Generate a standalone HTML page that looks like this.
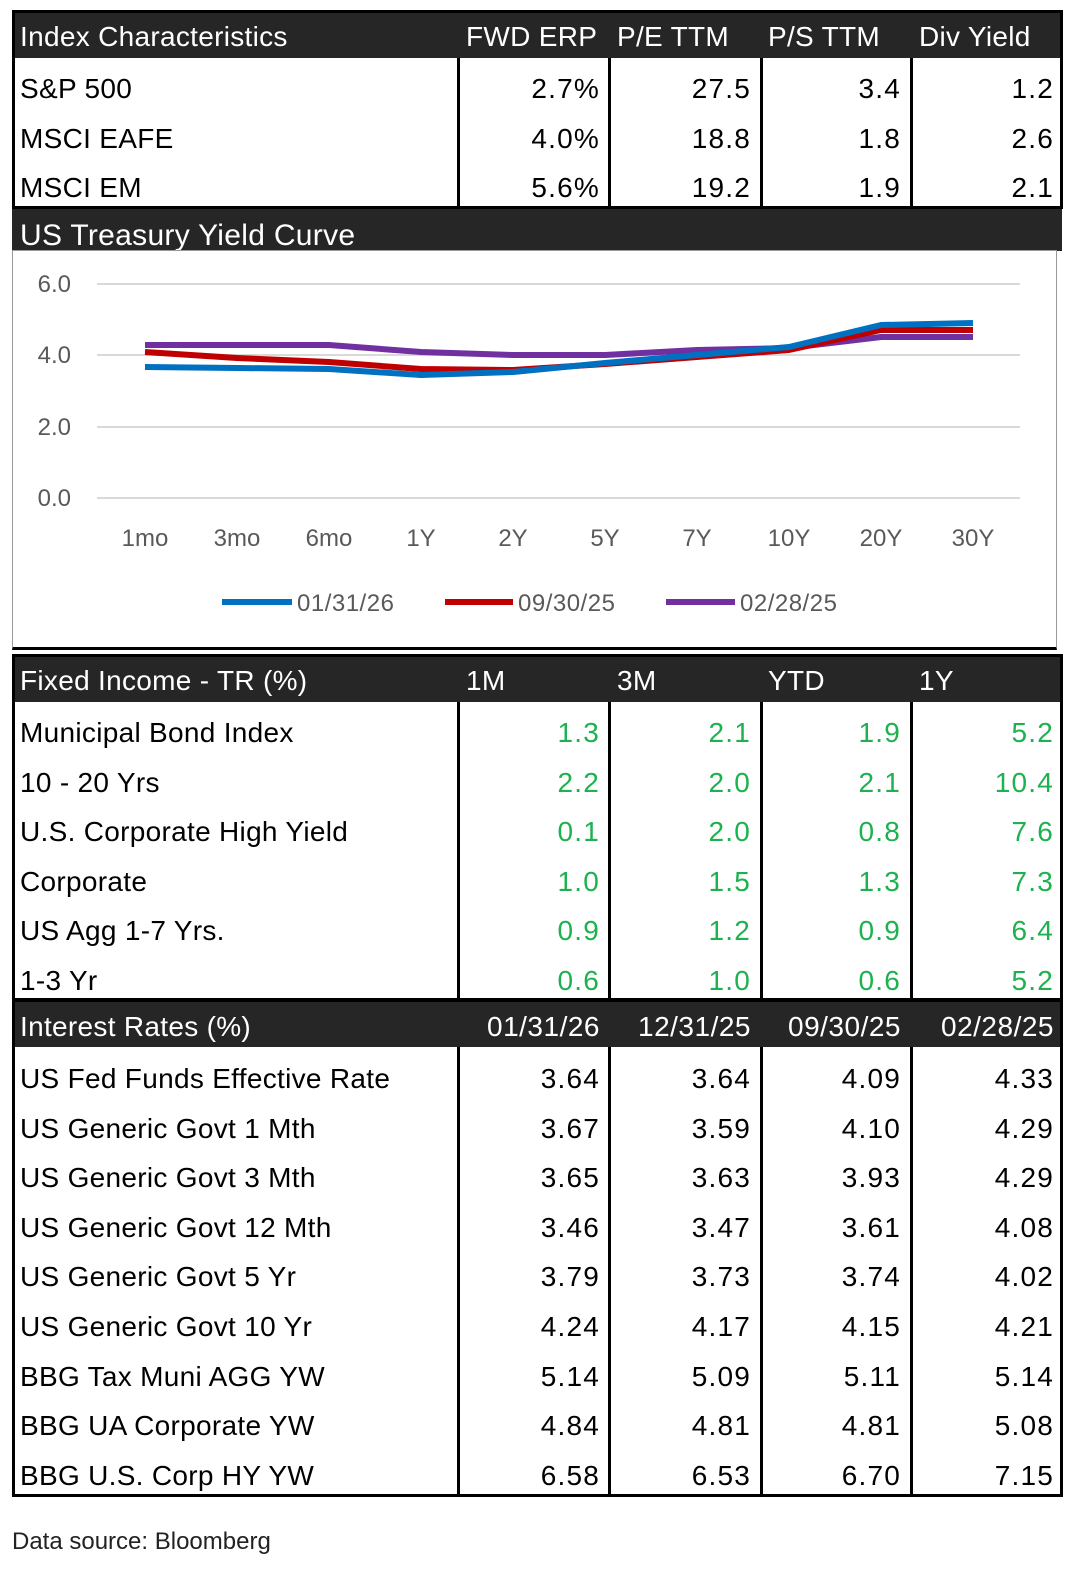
<!DOCTYPE html>
<html><head><meta charset="utf-8"><style>
html,body{margin:0;overflow:hidden}
body{width:1092px;height:1586px;background:#fff;position:relative;font-family:"Liberation Sans",sans-serif}
.a{position:absolute}
.hd{position:absolute;left:12px;width:1050px;background:#262626;color:#fff}
.t{position:absolute;font-size:28px;white-space:nowrap;line-height:1;letter-spacing:0.3px}
.r{text-align:right;letter-spacing:1.2px}
.g{color:#1db24f}
.box{position:absolute;border:3px solid #000;box-sizing:border-box;left:12px;width:1051px}
.v{position:absolute;width:3px;background:#000}
</style></head><body>
<div class="hd" style="top:10px;height:48px"></div>
<div class="box" style="top:10px;height:199px"></div>
<div class="v" style="left:457px;top:58px;height:150px"></div>
<div class="v" style="left:608px;top:58px;height:150px"></div>
<div class="v" style="left:760px;top:58px;height:150px"></div>
<div class="v" style="left:910px;top:58px;height:150px"></div>
<div class="t" style="left:20px;top:23px;color:#fff">Index Characteristics</div>
<div class="t" style="left:466px;top:23px;color:#fff">FWD ERP</div>
<div class="t" style="left:617px;top:23px;color:#fff">P/E TTM</div>
<div class="t" style="left:768px;top:23px;color:#fff">P/S TTM</div>
<div class="t" style="left:919px;top:23px;color:#fff">Div Yield</div>
<div id="top"></div>
<div class="hd" style="top:209px;height:42px;overflow:hidden"><div class="t" style="left:8px;top:12px;font-size:30px">US Treasury Yield Curve</div></div>
<div class="a" style="left:12px;top:250px;width:1045px;height:400px;border:1px solid #999;border-bottom:3px solid #000;box-sizing:border-box"></div>
<svg class="a" style="left:0;top:0" width="1092" height="660">
<g stroke="#d9d9d9" stroke-width="2">
<line x1="97" y1="284" x2="1020" y2="284"/><line x1="97" y1="355" x2="1020" y2="355"/><line x1="97" y1="427" x2="1020" y2="427"/><line x1="97" y1="498" x2="1020" y2="498"/></g>
<g font-family="Liberation Sans" font-size="24" fill="#595959" text-anchor="end">
<text x="71" y="292">6.0</text><text x="71" y="363">4.0</text><text x="71" y="435">2.0</text><text x="71" y="506">0.0</text></g>
<g font-family="Liberation Sans" font-size="24" fill="#595959" text-anchor="middle">
<text x="145" y="546">1mo</text><text x="237" y="546">3mo</text><text x="329" y="546">6mo</text><text x="421" y="546">1Y</text><text x="513" y="546">2Y</text><text x="605" y="546">5Y</text><text x="697" y="546">7Y</text><text x="789" y="546">10Y</text><text x="881" y="546">20Y</text><text x="973" y="546">30Y</text></g>
<g fill="none" stroke-width="6" stroke-linejoin="round">
<polyline stroke="#7030a0" points="145,345 237,345 329,345 421,352 513,355 605,355 697,350 789,348 881,337 973,337"/>
<polyline stroke="#c00000" points="145,352 237,358 329,362 421,369 513,370 605,364 697,357 789,350 881,330 973,330"/>
<polyline stroke="#0070c0" points="145,367 237,368 329,369 421,375 513,372 605,363 697,355 789,347 881,325 973,323"/>
</g>
<g stroke-width="6"><line x1="222" y1="602" x2="292" y2="602" stroke="#0070c0"/><line x1="445" y1="602" x2="513" y2="602" stroke="#c00000"/><line x1="666" y1="602" x2="735" y2="602" stroke="#7030a0"/></g>
<g font-family="Liberation Sans" font-size="24" fill="#595959" letter-spacing="0.5">
<text x="297" y="611">01/31/26</text><text x="518" y="611">09/30/25</text><text x="740" y="611">02/28/25</text></g>
</svg>
<div class="hd" style="top:654px;height:48px"></div>
<div class="box" style="top:654px;height:347px"></div>
<div class="v" style="left:457px;top:702px;height:298px"></div>
<div class="v" style="left:608px;top:702px;height:298px"></div>
<div class="v" style="left:760px;top:702px;height:298px"></div>
<div class="v" style="left:910px;top:702px;height:298px"></div>
<div class="t" style="left:20px;top:667px;color:#fff">Fixed Income - TR (%)</div>
<div class="t" style="left:466px;top:667px;color:#fff">1M</div>
<div class="t" style="left:617px;top:667px;color:#fff">3M</div>
<div class="t" style="left:768px;top:667px;color:#fff">YTD</div>
<div class="t" style="left:919px;top:667px;color:#fff">1Y</div>
<div id="fi"></div>
<div class="hd" style="top:999px;height:48px"></div>
<div class="box" style="top:999px;height:498px"></div>
<div class="v" style="left:457px;top:1047px;height:448px"></div>
<div class="v" style="left:608px;top:1047px;height:448px"></div>
<div class="v" style="left:760px;top:1047px;height:448px"></div>
<div class="v" style="left:910px;top:1047px;height:448px"></div>
<div class="t" style="left:20px;top:1013px;color:#fff">Interest Rates (%)</div>
<div class="t r" style="right:492px;top:1013px;color:#fff;letter-spacing:0.5px">01/31/26</div>
<div class="t r" style="right:341px;top:1013px;color:#fff;letter-spacing:0.5px">12/31/25</div>
<div class="t r" style="right:191px;top:1013px;color:#fff;letter-spacing:0.5px">09/30/25</div>
<div class="t r" style="right:38px;top:1013px;color:#fff;letter-spacing:0.5px">02/28/25</div>
<div id="ir"></div>
<div class="t" style="left:12px;top:1530px;font-size:24px;color:#222;letter-spacing:0">Data source: Bloomberg</div>
<script>
function rows(id,top,data,cls){var h='';data.forEach(function(d,i){var y=top+i*49.6;
h+='<div class="t" style="left:20px;top:'+y+'px">'+d[0]+'</div>';
var rs=[492,341,191,38];for(var k=1;k<5;k++)h+='<div class="t r '+cls+'" style="right:'+rs[k-1]+'px;top:'+y+'px">'+d[k]+'</div>';});
document.getElementById(id).innerHTML=h;}
rows('top',75,[["S&amp;P 500","2.7%","27.5","3.4","1.2"],["MSCI EAFE","4.0%","18.8","1.8","2.6"],["MSCI EM","5.6%","19.2","1.9","2.1"]],'');
rows('fi',719,[["Municipal Bond Index","1.3","2.1","1.9","5.2"],["10 - 20 Yrs","2.2","2.0","2.1","10.4"],["U.S. Corporate High Yield","0.1","2.0","0.8","7.6"],["Corporate","1.0","1.5","1.3","7.3"],["US Agg 1-7 Yrs.","0.9","1.2","0.9","6.4"],["1-3 Yr","0.6","1.0","0.6","5.2"]],'g');
rows('ir',1065,[["US Fed Funds Effective Rate","3.64","3.64","4.09","4.33"],["US Generic Govt 1 Mth","3.67","3.59","4.10","4.29"],["US Generic Govt 3 Mth","3.65","3.63","3.93","4.29"],["US Generic Govt 12 Mth","3.46","3.47","3.61","4.08"],["US Generic Govt 5 Yr","3.79","3.73","3.74","4.02"],["US Generic Govt 10 Yr","4.24","4.17","4.15","4.21"],["BBG Tax Muni AGG YW","5.14","5.09","5.11","5.14"],["BBG UA Corporate YW","4.84","4.81","4.81","5.08"],["BBG U.S. Corp HY YW","6.58","6.53","6.70","7.15"]],'');
</script>
</body></html>
